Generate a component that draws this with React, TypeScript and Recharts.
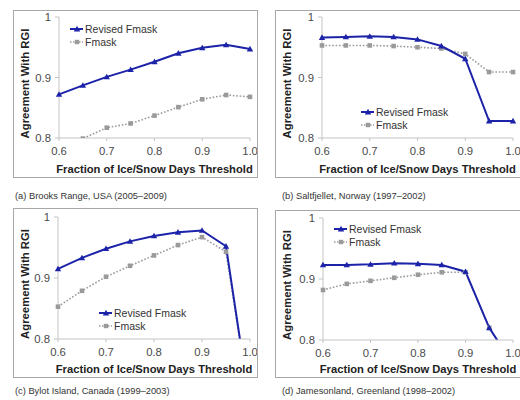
import React from 'react';
import { LineChart, Line, XAxis, YAxis, Legend, Label } from 'recharts';

const thresholds = [0.6, 0.65, 0.7, 0.75, 0.8, 0.85, 0.9, 0.95, 1.0];
const xTicks = [0.6, 0.7, 0.8, 0.9, 1.0];
const yTicks = [0.8, 0.9, 1];

const brooksRevised = [0.872, 0.887, 0.901, 0.913, 0.926, 0.94, 0.949, 0.954, 0.947];
const brooksFmask = [0.78, 0.799, 0.817, 0.824, 0.837, 0.851, 0.864, 0.871, 0.868];
const saltRevised = [0.966, 0.967, 0.968, 0.967, 0.963, 0.952, 0.931, 0.828, 0.828];
const saltFmask = [0.953, 0.953, 0.953, 0.952, 0.95, 0.948, 0.939, 0.909, 0.909];
const bylotRevised = [0.915, 0.933, 0.948, 0.96, 0.969, 0.975, 0.978, 0.952, 0.69];
const bylotFmask = [0.853, 0.879, 0.902, 0.92, 0.937, 0.954, 0.967, 0.943, 0.69];
const jamesRevised = [0.923, 0.923, 0.924, 0.926, 0.925, 0.923, 0.912, 0.82, 0.76];
const jamesFmask = [0.882, 0.892, 0.897, 0.902, 0.907, 0.911, 0.911, 0.82, 0.76];

const captions = [
  '(a) Brooks Range, USA (2005\u20132009)',
  '(b) Saltfjellet, Norway (1997\u20132002)',
  '(c) Bylot Island, Canada (1999\u20132003)',
  '(d) Jamesonland, Greenland (1998\u20132002)',
];

const BLUE = '#1c23a8';
const GRAY = '#9a9a9a';
const FONT = '"Liberation Sans", Arial, sans-serif';

const makeRows = (rev: number[], fm: number[]) =>
  thresholds.map((t, i) => ({ t, revised: rev[i], fmask: fm[i] }));

const Tri = (props: any) => {
  const { cx, cy, key } = props;
  if (cx == null || cy == null) return <g key={key} />;
  return <path key={key} d={`M${cx},${cy - 3.2}L${cx + 3.2},${cy + 2.4}L${cx - 3.2},${cy + 2.4}Z`} fill={BLUE} />;
};
const Sq = (props: any) => {
  const { cx, cy, key } = props;
  if (cx == null || cy == null) return <g key={key} />;
  return <rect key={key} x={cx - 2.3} y={cy - 2.3} width={4.6} height={4.6} fill={GRAY} />;
};

const LegendContent = (props: any) => {
  const payload = [...(props.payload || [])].sort((a: any, b: any) =>
    a.dataKey === 'revised' ? -1 : b.dataKey === 'revised' ? 1 : 0
  );
  return (
    <div style={{ fontFamily: FONT, fontSize: 10.5, color: '#333', whiteSpace: 'nowrap', width: 120 }}>
      {payload.map((p: any, i: number) => (
        <div key={i} style={{ display: 'flex', alignItems: 'center', height: 13.5 }}>
          <svg width={14} height={10} style={{ marginRight: 1 }}>
            {p.dataKey === 'revised' ? (
              <>
                <line x1={0} y1={5} x2={13} y2={5} stroke={BLUE} strokeWidth={2} />
                <path d="M7,1.8L10.2,7.4L3.8,7.4Z" fill={BLUE} />
              </>
            ) : (
              <>
                <line x1={0} y1={5} x2={13} y2={5} stroke={GRAY} strokeWidth={1.5} strokeDasharray="1.5 1.5" />
                <rect x={4.8} y={2.8} width={4.4} height={4.4} fill={GRAY} />
              </>
            )}
          </svg>
          <span>{p.value}</span>
        </div>
      ))}
    </div>
  );
};

type PanelProps = {
  left: number; top: number; w: number; h: number;
  margin: { top: number; right: number; bottom: number; left: number };
  yWidth: number; xHeight: number;
  rows: any[];
  legendPos: { left: number; top: number };
  caption: string; capLeft: number; capTop: number;
};

const Panel = (p: PanelProps) => {
  const tickStyle = { fontFamily: FONT, fontSize: 11.3, fill: '#4a4a4a' };
  return (
    <>
      <div
        style={{
          position: 'absolute', left: p.left, top: p.top, width: p.w, height: p.h,
          border: '1px solid #a8a8a8', boxSizing: 'border-box', background: '#fff',
        }}
      >
        <LineChart width={p.w - 2} height={p.h - 2} data={p.rows} margin={p.margin}>
          <XAxis
            dataKey="t" type="number" domain={[0.6, 1.0]} ticks={xTicks}
            tickFormatter={(v: number) => v.toFixed(1)}
            stroke="#c4c4c4" tickSize={3} tickMargin={6} tick={tickStyle}
            height={p.xHeight} interval={0}
          >
            <Label
              value="Fraction of Ice/Snow Days Threshold"
              position="insideBottom" offset={4}
              style={{ fontFamily: FONT, fontSize: 11.2, fontWeight: 'bold', fill: '#222' }}
            />
          </XAxis>
          <YAxis
            type="number" domain={[0.8, 1]} ticks={yTicks} allowDataOverflow
            tickFormatter={(v: number) => (v === 1 ? '1' : v.toFixed(1))}
            stroke="#c4c4c4" tickSize={4} tickMargin={4} tick={tickStyle}
            width={p.yWidth} interval={0}
            label={(lp: any) => {
              const vb = lp.viewBox || {};
              const x = (vb.x || 0) + 11;
              const y = (vb.y || 0) + (vb.height || 0) / 2 + 6;
              return (
                <text
                  x={x} y={y} transform={`rotate(-90, ${x}, ${y})`} textAnchor="middle"
                  dominantBaseline="central"
                  style={{ fontFamily: FONT, fontSize: 11.3, fontWeight: 'bold', fill: '#222' }}
                >
                  Agreement With RGI
                </text>
              );
            }}
          />
          <Legend
            layout="vertical" align="left" verticalAlign="top"
            content={LegendContent}
            wrapperStyle={{ left: p.legendPos.left, top: p.legendPos.top, width: 0, height: 0, overflow: 'visible' }}
          />
          <Line
            dataKey="fmask" name="Fmask" stroke={GRAY} strokeWidth={1.6} strokeDasharray="1.6 1.8"
            dot={Sq} isAnimationActive={false} type="linear"
          />
          <Line
            dataKey="revised" name="Revised Fmask" stroke={BLUE} strokeWidth={2}
            dot={Tri} isAnimationActive={false} type="linear"
          />
        </LineChart>
      </div>
      <div
        style={{
          position: 'absolute', left: p.capLeft, top: p.capTop, fontFamily: FONT,
          fontSize: 9.3, color: '#333', whiteSpace: 'nowrap', lineHeight: '11px',
        }}
      >
        {p.caption}
      </div>
    </>
  );
};

export default function App() {
  return (
    <div style={{ position: 'absolute', left: 0, top: 0, width: 520, height: 400, overflow: 'hidden', background: '#fff' }}>
      <Panel
        left={13} top={10} w={245} h={168}
        margin={{ top: 6, right: 7, bottom: 0, left: 0 }} yWidth={45} xHeight={39}
        rows={makeRows(brooksRevised, brooksFmask)}
        legendPos={{ left: 56, top: 11 }}
        caption={captions[0]} capLeft={15} capTop={191}
      />
      <Panel
        left={275} top={10} w={252} h={168}
        margin={{ top: 6, right: 13, bottom: 0, left: 0 }} yWidth={46} xHeight={39}
        rows={makeRows(saltRevised, saltFmask)}
        legendPos={{ left: 85, top: 94 }}
        caption={captions[1]} capLeft={282} capTop={191}
      />
      <Panel
        left={13} top={208} w={245} h={170}
        margin={{ top: 8, right: 7, bottom: 0, left: 0 }} yWidth={44} xHeight={38}
        rows={makeRows(bylotRevised, bylotFmask)}
        legendPos={{ left: 85, top: 97 }}
        caption={captions[2]} capLeft={15} capTop={386}
      />
      <Panel
        left={275} top={210} w={252} h={168}
        margin={{ top: 7, right: 13, bottom: 0, left: 0 }} yWidth={47} xHeight={37}
        rows={makeRows(jamesRevised, jamesFmask)}
        legendPos={{ left: 58, top: 11 }}
        caption={captions[3]} capLeft={282} capTop={386}
      />
    </div>
  );
}
